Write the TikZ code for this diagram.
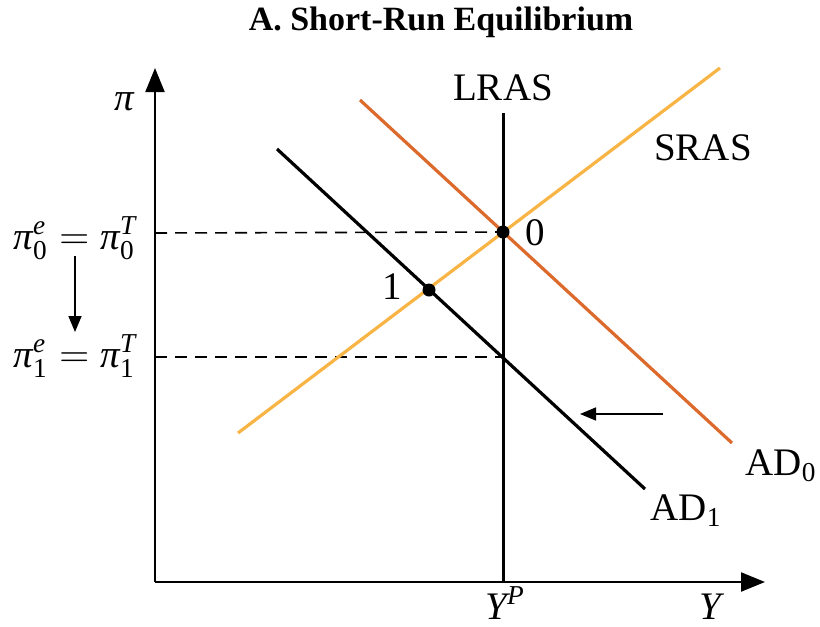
\documentclass[tikz,border=0pt]{standalone}
\usepackage{amsmath}
\usepackage{fontspec}
\setmainfont{Liberation Serif}
\usetikzlibrary{arrows.meta}
\definecolor{srascol}{HTML}{F8B444}
\definecolor{adzcol}{HTML}{DC6A2C}
\newcommand{\itx}[1]{\textit{#1}}
\begin{document}
\begin{tikzpicture}[x=0.5pt,y=-0.5pt,
  lbl/.style={font=\fontsize{19.5}{22}\selectfont, inner sep=0pt},
  ttl/.style={font=\fontsize{17}{20}\selectfont\bfseries, inner sep=0pt},
  axis/.style={line width=1.1pt, -{Triangle[length=12pt,width=9.5pt]}},
  curve/.style={line width=1.6pt},
  dashln/.style={line width=0.8pt, dash pattern=on 6pt off 4pt},
  movearrow/.style={line width=0.8pt, -{Triangle[length=8pt,width=6.5pt]}},
  dot/.style={circle, fill=black, inner sep=0pt, minimum size=6.5pt}]
\useasboundingbox (0,0) rectangle (820,627);
% title
\node[ttl] (title) at (441,22) {A. Short-Run Equilibrium};
% axes
\coordinate (O) at (155,582);
\coordinate (ytop) at (155,68);
\coordinate (xend) at (765,582);
\draw[axis] (O) -- (ytop);
\draw[axis] (O) -- (xend);
\node[lbl] (pi) at (125,102) {\itx{π}};
\node[lbl] (Y) at (712,607) {\itx{Y}};
\node[lbl] (YP) at (505,603) {$\itx{Y}^{\itx{P}}$};
% curves endpoints
\coordinate (lrasT) at (503,113);
\coordinate (lrasB) at (503,582);
\coordinate (srasA) at (238,433);
\coordinate (srasB) at (720,68);
\coordinate (ad0A) at (360,100);
\coordinate (ad0B) at (732,443);
\coordinate (ad1A) at (277,149);
\coordinate (ad1B) at (645,489);
% dashed lines
\coordinate (d0L) at (155,233);
\coordinate (d1L) at (155,357);
\coordinate (d1R) at (503,357);
\coordinate (e0c) at (503,232);
\draw[dashln] (d0L) -- (e0c);
\draw[dashln] (d1L) -- (d1R);
\draw[curve, srascol] (srasA) -- (srasB);
\draw[curve, adzcol] (ad0A) -- (ad0B);
\draw[curve, black] (ad1A) -- (ad1B);
\draw[line width=1.5pt] (lrasB) -- (lrasT);
\node[dot] (e0) at (e0c) {};
\node[dot] (e1) at (429,290) {};
% labels
\node[lbl] (lras) at (503,88) {LRAS};
\node[lbl] (sras) at (703,148) {SRAS};
\node[lbl] (ad0) at (781,466) {AD$_{\text{0}}$};
\node[lbl] (ad1) at (686,511) {AD$_{\text{1}}$};
\node[lbl] (l0) at (535,233) {0};
\node[lbl] (l1) at (392,287) {1};
\node[lbl] (pi0) at (75,238) {$\itx{π}^{\itx{e}}_{\text{0}} = \itx{π}^{\itx{T}}_{\text{0}}$};
\node[lbl] (pi1) at (75,356) {$\itx{π}^{\itx{e}}_{\text{1}} = \itx{π}^{\itx{T}}_{\text{1}}$};
\coordinate (vT) at (75,256);
\coordinate (vB) at (75,332);
\draw[movearrow] (vT) -- (vB);
\coordinate (hR) at (663,414);
\coordinate (hL) at (580,414);
\draw[movearrow] (hR) -- (hL);
\end{tikzpicture}
\end{document}
